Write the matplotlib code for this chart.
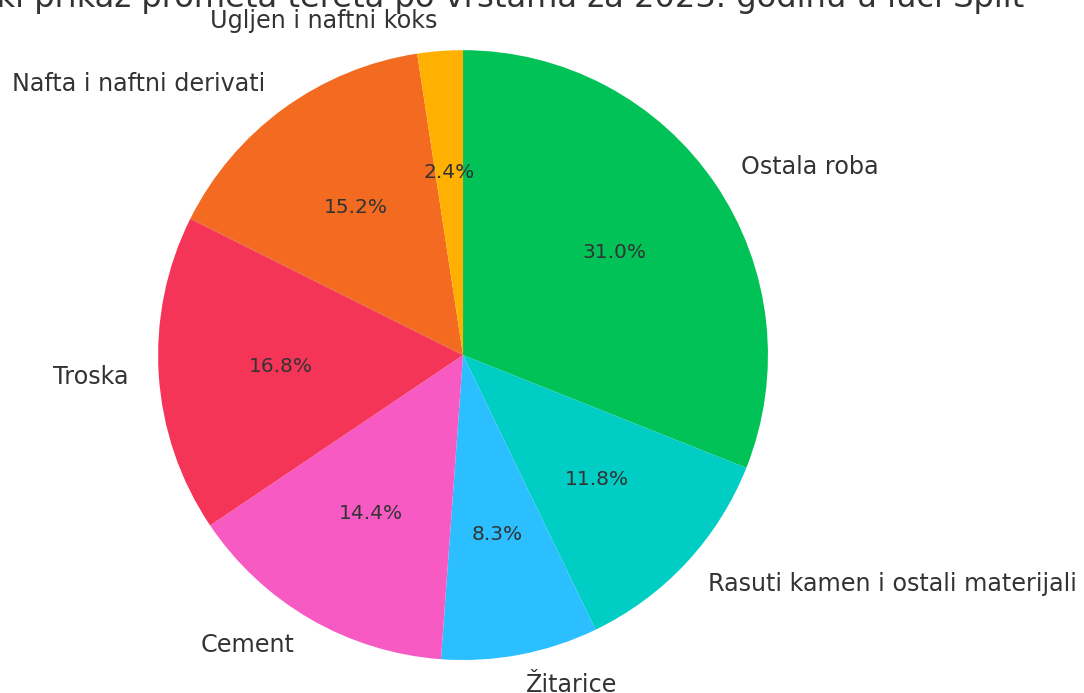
import matplotlib.pyplot as plt

# Promet tereta po vrstama, luka Split 2023.
categories = ['Ostala roba', 'Rasuti kamen i ostali materijali', 'Žitarice', 'Cement',
              'Troska', 'Nafta i naftni derivati', 'Ugljen i naftni koks']
shares = [31.0, 11.8, 8.3, 14.4, 16.8, 15.2, 2.4]
colors = ['#00c257', '#00cec4', '#2bbfff', '#f75bc3', '#f53557', '#f26b21', '#ffb000']

fig = plt.figure(figsize=(10.84, 6.93), dpi=100)
ax = fig.add_axes([0.1458, 0.0476, 0.5627, 0.880])

wedges, texts, autotexts = ax.pie(shares, labels=categories, colors=colors,
                                  autopct='%1.1f%%', startangle=90, counterclock=False,
                                  textprops={'color': '#333333', 'fontsize': 17.2})
for t in autotexts:
    t.set_fontsize(14.5)
ax.set_xlim(-1, 1)
ax.set_ylim(-1, 1)
ax.set_aspect('equal')
ax.set_title('Grafički prikaz prometa tereta po vrstama za 2023. godinu u luci Split',
             fontsize=23.1, color='#333333', pad=31)

plt.savefig('out.png', dpi=100)
